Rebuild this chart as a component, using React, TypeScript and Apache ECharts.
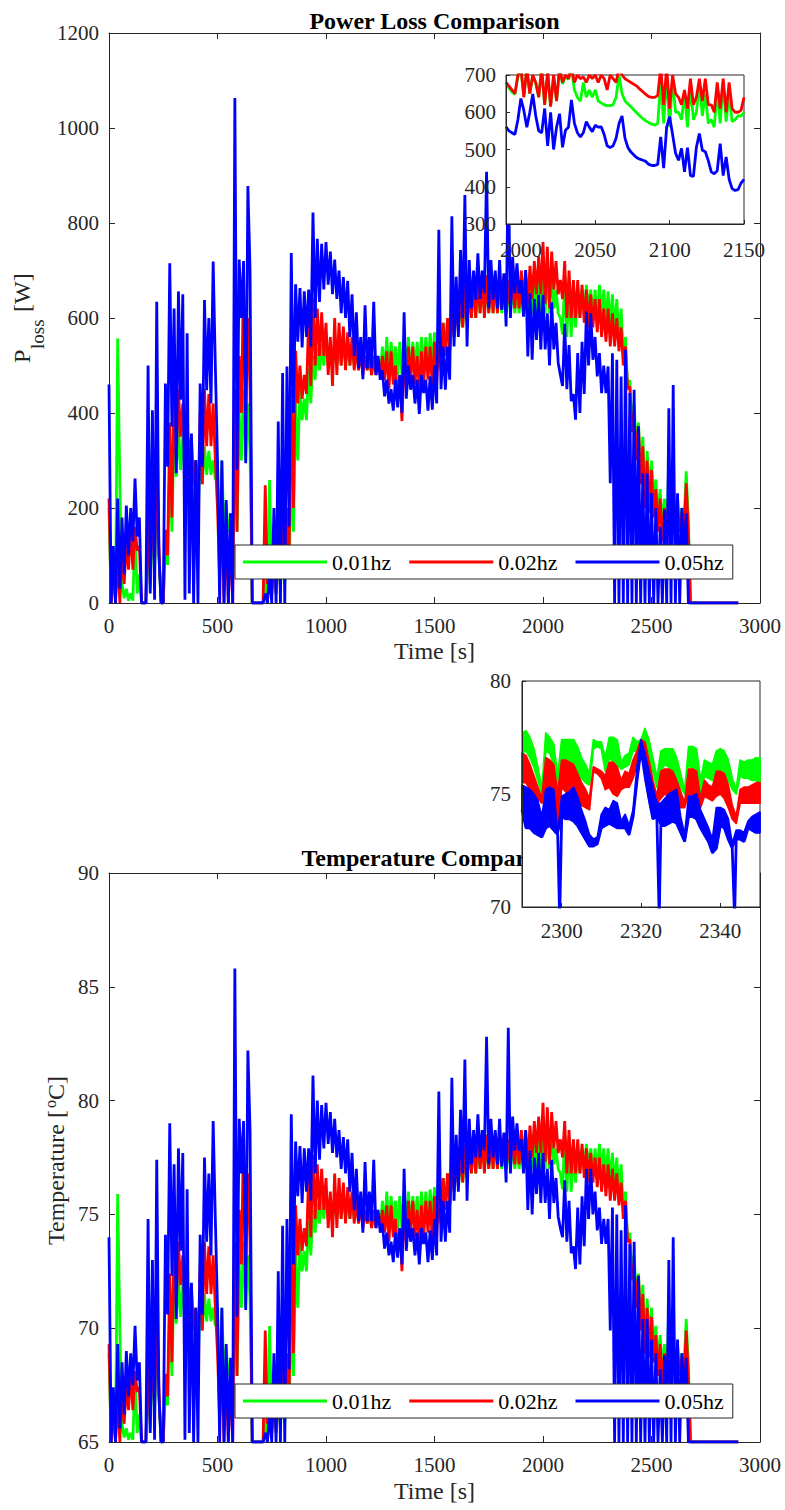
import React, { useEffect, useRef } from 'react';
import * as echarts from 'echarts';

// ---------- names / colours ----------
const NAMES = ['0.01hz', '0.02hz', '0.05hz'];
const COLORS = ['#00ff00', '#ff0000', '#0000ff'];

// ---------- main plots: 20 s windows starting at 0 s ----------
// For every window: upper (Hi) and lower (Lo) excursion of the dense signal.
const WIN_T0 = 0;
const WIN_STEP = 20;
const tailTime = [2680, 2900];
const tailPower = [0, 0];
const tailTemp = [65, 65];

// Power loss [W]
const pGreenHi = [200,60,557,40,30,20,150,60,0,150, 200,250,0,133,300,380,380,350,330,300, 280,320,330,320,300,300,300,210,180,300, 400,450,420,0,0,0,60,259,120,100, 139,147,301,420,448,430,494,520,538,545, 550,550,540,540,545,540,540,530,530,520, 520,520,510,540,560,550,540,550,560,560, 550,550,560,560,568,570,580,590,600,610, 630,640,650,650,660,660,670,670,670,670, 670,660,660,670,660,670,670,670,670,680, 700,700,700,660,600,690,670,650,650,660, 670,660,660,670,660,656,650,640,620,560, 470,420,380,350,320,300,260,240,220,300, 260,220,200,277];
const pGreenLo = [0,0,250,10,5,5,20,0,0,30, 60,100,0,80,150,266,280,270,250,200, 180,250,270,270,260,100,150,150,100,150, 300,300,320,0,0,0,0,30,20,30, 40,60,150,300,385,385,420,470,490,500, 500,500,500,500,505,500,500,500,490,490, 480,490,480,480,480,490,480,480,490,480, 490,480,490,490,498,500,510,520,530,560, 570,580,590,600,600,610,610,610,610,610, 610,610,610,610,610,610,610,610,610,610, 610,610,620,610,565,560,560,580,600,610, 610,600,600,600,590,580,570,560,520,450, 380,320,280,220,230,220,180,160,150,130, 150,170,170,170];
const pRedHi = [220,80,100,110,130,160,160,120,0,200, 240,300,0,154,380,450,450,420,380,350, 300,400,450,440,420,200,200,160,154,450, 520,693,600,0,0,0,248,80,100,150, 183,200,450,531,500,480,600,641,620,612, 590,560,600,590,582,570,560,540,530,520, 520,520,510,520,530,530,500,480,520,540, 540,520,530,540,540,550,560,590,600,620, 640,660,670,680,680,690,680,690,680,690, 690,690,680,690,690,700,700,710,720,730, 760,750,740,720,680,720,700,680,680,670, 660,650,640,640,620,620,610,600,580,540, 456,400,372,330,300,280,240,220,200,250, 230,200,190,252];
const pRedLo = [0,0,0,40,70,70,110,0,0,40, 80,120,0,100,180,300,350,300,300,250, 200,250,330,330,300,50,0,0,0,150, 400,400,450,0,0,0,40,20,20,30, 60,100,200,420,430,440,457,500,520,520, 480,457,480,500,490,500,490,490,480,490, 480,480,480,470,450,460,430,383,450,470, 460,450,460,470,450,460,490,520,530,560, 570,580,590,600,600,610,600,610,610,610, 620,610,620,620,620,630,630,640,650,650, 630,620,660,650,640,600,600,600,600,590, 580,580,570,560,550,540,540,530,500,450, 360,300,250,200,190,180,150,130,120,100, 120,150,150,150];
const pBlueHi = [460,120,220,180,205,200,262,180,0,500, 406,634,0,462,715,620,656,650,568,357, 301,462,638,600,719,300,300,217,189,1063, 723,720,878,0,0,0,20,63,200,382, 484,498,737,671,663,656,660,822,767,756, 760,740,723,700,686,678,650,612,560,627, 560,634,520,490,470,450,470,480,612,500, 480,470,480,470,477,500,786,540,540,814, 687,743,859,722,700,736,700,908,722,700, 722,694,930,729,715,680,701,652,640,649, 649,610,633,590,480,588,543,440,526,550, 614,610,560,526,500,498,526,512,477,533, 442,449,372,273,273,231,200,161,196,410, 459,231,200,189];
const pBlueLo = [0,0,30,60,100,130,140,0,0,20, 7,100,0,287,371,273,428,7,20,0, 0,287,448,420,500,0,0,0,0,280, 600,294,700,0,0,0,0,0,0,0, 0,161,400,550,538,560,540,600,634,660, 670,650,640,610,600,560,520,494,471,494, 494,480,470,435,420,405,412,400,430,449, 420,398,442,405,407,420,450,449,470,540, 560,600,540,620,638,640,652,620,638,620, 617,582,600,652,652,603,519,512,554,534, 534,500,534,506,457,450,425,386,400,440, 500,512,477,442,442,252,0,0,0,0, 0,0,0,0,0,0,0,0,0,0, 0,0,100,0];

// Temperature [degC]
const tGreenHi = [68.9,66.2,75.9,65.8,65.6,65.4,67.9,66.2,65.0,67.9, 68.9,69.9,65.0,67.6,70.9,72.4,72.4,71.9,71.5,70.9, 70.5,71.3,71.5,71.3,70.9,70.9,70.9,69.1,68.5,70.9, 72.8,73.8,73.2,65,65,65,66.2,70.1,67.4,67.0, 67.7,67.9,70.9,73.2,73.8,73.4,74.7,75.2,75.5,75.7, 75.8,75.8,75.6,75.6,75.7,75.6,75.6,75.4,75.4,75.2, 75.2,75.2,75.0,75.6,76.0,75.8,75.6,75.8,76.0,76.0, 75.8,75.8,76.0,76.0,76.1,76.2,76.4,76.6,76.8,77.0, 77.3,77.5,77.7,77.7,77.9,77.9,78.1,78.1,78.1,78.1, 78.1,77.9,77.9,78.1,77.9,78.1,78.1,78.1,78.1,78.3, 78.7,78.7,78.7,77.9,76.8,78.5,78.1,77.7,77.7,77.9, 78.1,77.9,77.9,78.1,77.9,77.9,77.7,77.5,77.2,76.0, 74.2,73.2,72.4,71.9,71.3,70.9,70.1,69.7,69.3,70.9, 70.1,69.3,68.9,70.4];
const tGreenLo = [65.0,65.0,69.9,65.2,65.1,65.1,65.4,65.0,65.0,65.6, 66.2,67.0,65.0,66.6,67.9,70.2,70.5,70.3,69.9,68.9, 68.5,69.9,70.3,70.3,70.1,67.0,67.9,67.9,67.0,67.9, 70.9,70.9,71.3,65,65,65,65.0,65.6,65.4,65.6, 65.8,66.2,67.9,70.9,72.5,72.5,73.2,74.2,74.6,74.8, 74.8,74.8,74.8,74.8,74.9,74.8,74.8,74.8,74.6,74.6, 74.4,74.6,74.4,74.4,74.4,74.6,74.4,74.4,74.6,74.4, 74.6,74.4,74.6,74.6,74.8,74.8,75.0,75.2,75.4,76.0, 76.2,76.4,76.6,76.8,76.8,77.0,77.0,77.0,77.0,77.0, 77.0,77.0,77.0,77.0,77.0,77.0,77.0,77.0,77.0,77.0, 77.0,77.0,77.2,77.0,76.1,76.0,76.0,76.4,76.8,77.0, 77.0,76.8,76.8,76.8,76.6,76.4,76.2,76.0,75.2,73.8, 72.4,71.3,70.5,69.3,69.5,69.3,68.5,68.1,67.9,67.5, 67.9,68.3,68.3,68.3];
const tRedHi = [69.3,66.6,67.0,67.2,67.5,68.1,68.1,67.4,65.0,68.9, 69.7,70.9,65.0,68.0,72.4,73.8,73.8,73.2,72.4,71.9, 70.9,72.8,73.8,73.6,73.2,68.9,68.9,68.1,68.0,73.8, 75.2,78.6,76.8,65,65,65,69.9,66.6,67.0,67.9, 68.6,68.9,73.8,75.4,74.8,74.4,76.8,77.6,77.2,77.0, 76.6,76.0,76.8,76.6,76.4,76.2,76.0,75.6,75.4,75.2, 75.2,75.2,75.0,75.2,75.4,75.4,74.8,74.4,75.2,75.6, 75.6,75.2,75.4,75.6,75.6,75.8,76.0,76.6,76.8,77.2, 77.5,77.9,78.1,78.3,78.3,78.5,78.3,78.5,78.3,78.5, 78.5,78.5,78.3,78.5,78.5,78.7,78.7,78.9,79.1,79.3, 79.9,79.7,79.5,79.1,78.3,79.1,78.7,78.3,78.3,78.1, 77.9,77.7,77.5,77.5,77.2,77.2,77.0,76.8,76.4,75.6, 73.9,72.8,72.3,71.5,70.9,70.5,69.7,69.3,68.9,69.9, 69.5,68.9,68.7,69.9];
const tRedLo = [65.0,65.0,65.0,65.8,66.4,66.4,67.2,65.0,65.0,65.8, 66.6,67.4,65.0,67.0,68.5,70.9,71.9,70.9,70.9,69.9, 68.9,69.9,71.5,71.5,70.9,66.0,65.0,65.0,65.0,67.9, 72.8,72.8,73.8,65,65,65,65.8,65.4,65.4,65.6, 66.2,67.0,68.9,73.2,73.4,73.6,74.0,74.8,75.2,75.2, 74.4,74.0,74.4,74.8,74.6,74.8,74.6,74.6,74.4,74.6, 74.4,74.4,74.4,74.2,73.8,74.0,73.4,72.5,73.8,74.2, 74.0,73.8,74.0,74.2,73.8,74.0,74.6,75.2,75.4,76.0, 76.2,76.4,76.6,76.8,76.8,77.0,76.8,77.0,77.0,77.0, 77.2,77.0,77.2,77.2,77.2,77.3,77.3,77.5,77.7,77.7, 77.3,77.2,77.9,77.7,77.5,76.8,76.8,76.8,76.8,76.6, 76.4,76.4,76.2,76.0,75.8,75.6,75.6,75.4,74.8,73.8, 72.1,70.9,69.9,68.9,68.7,68.5,67.9,67.5,67.4,67.0, 67.4,67.9,67.9,67.9];
const tBlueHi = [74.0,67.4,69.3,68.5,69.0,68.9,70.1,68.5,65.0,74.8, 73.0,77.4,65.0,74.1,79.0,77.2,77.9,77.7,76.1,72.0, 70.9,74.1,77.5,76.8,79.1,70.9,70.9,69.3,68.7,85.8, 79.2,79.1,82.2,65,65,65,65.4,66.2,68.9,72.5, 74.5,74.8,79.4,78.2,78.0,77.9,77.9,81.1,80.0,79.8, 79.9,79.5,79.2,78.7,78.4,78.3,77.7,77.0,76.0,77.3, 76.0,77.4,75.2,74.6,74.2,73.8,74.2,74.4,77.0,74.8, 74.4,74.2,74.4,74.2,74.3,74.8,80.4,75.6,75.6,81.0, 78.5,79.6,81.8,79.2,78.7,79.4,78.7,82.8,79.2,78.7, 79.2,78.6,83.2,79.3,79.0,78.3,78.7,77.8,77.5,77.7, 77.7,77.0,77.4,76.6,74.4,76.5,75.6,73.6,75.3,75.8, 77.0,77.0,76.0,75.3,74.8,74.8,75.3,75.0,74.3,75.4, 73.7,73.8,72.3,70.4,70.4,69.5,68.9,68.2,68.8,73.0, 74.0,69.5,68.9,68.7];
const tBlueLo = [65.0,65.0,65.6,66.2,67.0,67.5,67.7,65.0,65.0,65.4, 65.1,67.0,65.0,70.6,72.3,70.4,73.4,65.1,65.4,65.0, 65.0,70.6,73.8,73.2,74.8,65.0,65.0,65.0,65.0,70.5, 76.8,70.8,78.7,65,65,65,65,65,65,65, 65.0,68.2,72.8,75.8,75.5,76.0,75.6,76.8,77.4,77.9, 78.1,77.7,77.5,77.0,76.8,76.0,75.2,74.7,74.2,74.7, 74.7,74.4,74.2,73.5,73.2,72.9,73.1,72.8,73.4,73.8, 73.2,72.8,73.7,72.9,73.0,73.2,73.8,73.8,74.2,75.6, 76.0,76.8,75.6,77.2,77.5,77.5,77.8,77.2,77.5,77.2, 77.1,76.4,76.8,77.8,77.8,76.8,75.2,75.0,75.9,75.5, 75.5,74.8,75.5,74.9,74.0,73.8,73.3,72.6,72.8,73.6, 74.8,75.0,74.3,73.7,73.7,69.9,65,65,65,65, 65,65,65,65,65,65,65,65,65,65, 65,65,67.0,65];

// ---------- inset 1: power loss 1990-2150 s, every 2 s ----------
const IN1_T0 = 1990;
const IN1_STEP = 2;
const in1Green = [675,665,655,648,695,715,645,715,650,698, 678,642,715,622,705,617,695,632,715,676, 696,688,715,660,640,630,680,640,660,640, 660,630,625,620,617,618,620,640,700,650, 630,622,615,606,598,590,583,577,572,568, 566,570,680,570,700,560,690,600,600,580, 650,560,670,580,600,680,590,650,570,580, 560,660,570,680,575,650,575,580,590,590, 600];
const in1Red = [680,670,660,650,700,720,640,720,650,700, 680,640,720,620,710,615,700,630,720,680, 700,690,720,680,700,690,695,680,700,690, 700,680,700,690,660,700,690,680,720,700, 690,685,680,675,670,662,655,648,642,640, 640,645,720,620,720,610,700,650,640,620, 660,610,690,620,640,690,630,690,620,620, 600,680,610,690,600,680,610,600,600,605, 640];
const in1Blue = [561,550,545,540,580,637,605,560,600,649, 590,550,545,610,510,600,500,560,596,506, 552,560,633,570,545,534,545,575,560,548, 565,560,561,540,510,505,510,530,570,590, 530,505,493,485,478,474,471,468,460,457, 457,460,534,450,560,588,540,490,471,503, 440,505,430,428,506,543,498,494,470,440, 435,443,516,430,480,420,395,390,392,410, 420];

// ---------- inset 2: temperature 2290-2350 s, 1 s steps (upper / lower edge of each band) ----------
const IN2_T0 = 2290;
const IN2_STEP = 1;
const in2GreenHi = [77.7,77.8,77.5,77.0,76.2,75.2,77.7,77.5,77.2,75.8, 77.4,77.4,77.4,77.4,77.1,76.6,76.3,75.9,77.4,77.3, 77.3,76.6,77.5,77.5,77.4,76.4,76.7,76.8,77.5,77.3, 77.4,77.9,77.4,76.6,75.7,76.9,77.0,77.0,77.0,76.6, 75.9,75.1,77.1,77.1,77.0,75.6,76.5,76.4,76.3,76.9, 77.0,76.9,76.5,75.7,75.2,76.5,76.4,76.5,76.5,76.6, 76.6];
const in2GreenLo = [76.8,76.9,76.6,76.2,75.6,75.0,76.9,76.8,76.3,75.0, 76.5,76.4,76.3,76.1,75.9,75.7,75.5,75.4,77.0,77.1, 77.0,76.0,76.6,76.4,76.3,76.1,76.2,76.3,76.9,76.9, 77.0,77.2,76.8,76.0,75.3,76.0,76.3,76.2,76.0,75.7, 75.3,75.0,76.3,76.1,75.9,75.0,75.8,75.7,75.6,76.0, 76.0,75.9,75.6,75.2,75.0,75.8,75.7,75.7,75.6,75.6, 75.5];
const in2RedHi = [76.8,76.7,76.3,75.8,75.3,74.8,76.6,76.5,76.3,75.0, 76.5,76.5,76.4,76.3,75.9,75.5,75.2,74.8,76.2,76.1, 76.0,75.8,76.4,76.4,76.2,75.6,76.0,75.9,76.5,76.9, 77.4,77.3,76.5,75.6,74.9,76.0,76.1,76.1,76.0,75.6, 75.1,74.6,76.1,76.1,76.0,74.8,75.6,75.4,75.3,76.0, 76.0,75.9,75.4,74.5,74.0,75.2,75.3,75.3,75.4,75.5, 75.5];
const in2RedLo = [75.5,75.5,75.2,75.0,74.8,74.6,75.3,75.2,75.0,73.4, 75.3,75.1,74.9,74.7,74.6,74.5,74.4,74.3,76.0,75.9, 75.7,75.2,75.3,75.0,74.9,75.2,75.3,75.3,75.7,76.3, 76.8,76.6,75.8,75.0,74.6,74.8,75.0,74.9,74.7,74.5, 74.4,74.4,75.0,74.9,74.7,74.4,74.9,74.8,74.7,74.9, 75.0,74.8,74.4,73.9,73.7,74.6,74.6,74.6,74.6,74.6, 74.6];
const in2BlueHi = [75.4,75.3,75.2,75.0,74.7,74.0,75.2,75.3,75.2,73.2, 74.9,75.0,75.1,75.3,74.9,74.3,73.8,73.2,73.0,73.1, 74.1,74.4,74.3,74.7,74.6,73.8,74.1,73.6,74.3,76.2, 77.4,76.8,76.0,75.3,74.6,74.6,74.8,75.0,75.1,75.2, 74.0,73.2,74.9,74.9,75.0,74.3,73.9,73.5,73.0,74.4, 74.4,74.3,73.9,72.8,73.4,73.4,73.3,73.8,74.0,74.1, 74.2];
const in2BlueLo = [74.3,73.5,73.5,73.3,73.2,73.1,73.5,73.6,73.4,73.2, 74.0,73.9,73.9,73.8,73.6,73.3,73.0,72.7,72.7,72.8, 73.5,73.6,73.7,73.6,73.5,73.5,73.5,73.2,74.0,75.6, 77.0,75.8,74.8,73.9,74.0,73.6,73.6,73.7,73.8,73.7, 73.3,72.9,74.0,74.0,73.9,73.5,73.2,72.9,72.4,72.6, 73.6,73.5,73.0,72.6,73.0,73.0,72.9,73.5,73.4,73.3, 73.3];
// sharp downward drops of the 0.05hz trace inside inset 2: [time, value] (value clipped at 70)
const in2BlueDips = [[2299.5, 69.5], [2324.6, 69.5], [2343.6, 69.5]];

// ---------- tick values ----------
const mainXTicks = { min: 0, max: 3000, interval: 500 };
const powerYTicks = { min: 0, max: 1200, interval: 200 };
const tempYTicks = { min: 65, max: 90, interval: 5 };
const in1X = { min: 1990, max: 2150, ticks: [2000, 2050, 2100, 2150] };
const in1Y = { min: 300, max: 700, interval: 100 };
const in2X = { min: 2290, max: 2350, ticks: [2300, 2320, 2340] };
const in2Y = { min: 70, max: 80, interval: 5 };

// ---------- helpers ----------
function envelopeSeries(hi: number[], lo: number[], t0: number, step: number, tailT: number[] = [], tailV: number[] = []) {
  const pts: number[][] = [];
  for (let k = 0; k < hi.length; k++) {
    pts.push([t0 + k * step, hi[k]]);
    pts.push([t0 + k * step + step / 2, lo[k]]);
  }
  for (let i = 0; i < tailT.length; i++) pts.push([tailT[i], tailV[i]]);
  return pts;
}
function plainSeries(vals: number[], t0: number, step: number) {
  return vals.map((v, i) => [t0 + i * step, v]);
}
function withDips(pts: number[][], dips: number[][]) {
  return pts.concat(dips).sort((a, b) => a[0] - b[0]);
}

const AX = '#262626';
const FAMILY = 'Liberation Serif';
const FONT = "'Liberation Serif', 'Times New Roman', serif";
const PAGE_CSS = `#root svg text, #root svg tspan { font-family: 'Liberation Serif', 'Times New Roman', serif !important; }`;
const LINE_W = 2.8;

function axis(o: any) {
  const { gridIndex, position, min, max, interval, showLabel = true, margin = 10, z = 0, tickLen = 6, customValues } = o;
  const a: any = {
    type: 'value', gridIndex, position, min, max, z,
    splitLine: { show: false },
    axisLine: { show: true, onZero: false, lineStyle: { color: AX, width: 1 } },
    axisTick: { show: true, inside: true, length: tickLen, lineStyle: { color: AX, width: 1 } },
    axisLabel: {
      show: showLabel, color: AX, fontFamily: FAMILY, fontSize: 21, margin,
      formatter: (v: number) => String(v),
    },
  };
  if (interval !== undefined) a.interval = interval;
  if (customValues) {
    a.axisTick.customValues = customValues;
    a.axisLabel.customValues = customValues;
  }
  return a;
}

function lineSeries(name: string, color: string, data: number[][], xi: number, yi: number, z: number, width = LINE_W) {
  return {
    type: 'line', name, data, xAxisIndex: xi, yAxisIndex: yi, z,
    symbol: 'none', showSymbol: false, clip: true, silent: true,
    lineStyle: { color, width }, itemStyle: { color },
    emphasis: { disabled: true },
  };
}

// filled band between an upper and a lower edge (custom series drawing a polygon through the axes)
function bandSeries(name: string, color: string, hi: number[], lo: number[], t0: number, step: number, xi: number, yi: number, z: number) {
  return {
    type: 'custom', name, xAxisIndex: xi, yAxisIndex: yi, z, silent: true,
    data: [[t0, lo[0]]],
    encode: { x: 0, y: 1 },
    renderItem: (_params: any, api: any) => {
      const pts: number[][] = [];
      for (let i = 0; i < hi.length; i++) pts.push(api.coord([t0 + i * step, hi[i]]));
      for (let i = lo.length - 1; i >= 0; i--) pts.push(api.coord([t0 + i * step, lo[i]]));
      return {
        type: 'polygon',
        shape: { points: pts },
        style: { fill: color, stroke: color, lineWidth: 1.8, lineJoin: 'round' },
      };
    },
  };
}

function legend(top: number) {
  return {
    data: NAMES.map((n) => ({ name: n, icon: 'rect' })),
    left: 235, top, orient: 'horizontal',
    itemWidth: 84, itemHeight: 3, itemGap: 18,
    padding: [6, 9, 6, 8],
    backgroundColor: '#fff', borderColor: AX, borderWidth: 1,
    textStyle: { fontFamily: FAMILY, fontSize: 22, color: '#000', lineHeight: 22 },
    selectedMode: false, z: 20,
  };
}

function buildOption() {
  const grids = [
    { left: 109, top: 33, width: 651, height: 570, show: false, z: 0, outerBoundsMode: 'none' },
    { left: 506, top: 75, width: 238, height: 149, show: true, backgroundColor: '#fff', borderColor: AX, borderWidth: 1, z: 10, outerBoundsMode: 'none' },
    { left: 109, top: 873, width: 651, height: 569, show: false, z: 0, outerBoundsMode: 'none' },
    { left: 522, top: 681, width: 238, height: 226, show: true, backgroundColor: '#fff', borderColor: AX, borderWidth: 1, z: 10, outerBoundsMode: 'none' },
  ];
  const xAxis = [
    axis({ gridIndex: 0, position: 'bottom', ...mainXTicks, margin: 12 }),
    axis({ gridIndex: 0, position: 'top', ...mainXTicks, showLabel: false }),
    axis({ gridIndex: 1, position: 'bottom', min: in1X.min, max: in1X.max, customValues: in1X.ticks, margin: 15, z: 20, tickLen: 4 }),
    axis({ gridIndex: 2, position: 'bottom', ...mainXTicks, margin: 12 }),
    axis({ gridIndex: 2, position: 'top', ...mainXTicks, showLabel: false }),
    axis({ gridIndex: 3, position: 'bottom', min: in2X.min, max: in2X.max, customValues: in2X.ticks, margin: 13, z: 20, tickLen: 4 }),
  ];
  const yAxis = [
    axis({ gridIndex: 0, position: 'left', ...powerYTicks, margin: 10 }),
    axis({ gridIndex: 0, position: 'right', ...powerYTicks, showLabel: false }),
    axis({ gridIndex: 1, position: 'left', ...in1Y, margin: 10, z: 20, tickLen: 4 }),
    axis({ gridIndex: 2, position: 'left', ...tempYTicks, margin: 10 }),
    axis({ gridIndex: 2, position: 'right', ...tempYTicks, showLabel: false }),
    axis({ gridIndex: 3, position: 'left', ...in2Y, margin: 11, z: 20, tickLen: 4 }),
  ];

  const pHi = [pGreenHi, pRedHi, pBlueHi];
  const pLo = [pGreenLo, pRedLo, pBlueLo];
  const tHi = [tGreenHi, tRedHi, tBlueHi];
  const tLo = [tGreenLo, tRedLo, tBlueLo];
  const i1 = [in1Green, in1Red, in1Blue];
  const i2Hi = [in2GreenHi, in2RedHi, in2BlueHi];
  const i2Lo = [in2GreenLo, in2RedLo, in2BlueLo];

  const series: any[] = [];
  for (let s = 0; s < 3; s++) {
    series.push(lineSeries(NAMES[s], COLORS[s], envelopeSeries(pHi[s], pLo[s], WIN_T0, WIN_STEP, tailTime, tailPower), 0, 0, 2 + s));
  }
  for (let s = 0; s < 3; s++) {
    series.push(lineSeries(NAMES[s], COLORS[s], plainSeries(i1[s], IN1_T0, IN1_STEP), 2, 2, 12 + s));
  }
  for (let s = 0; s < 3; s++) {
    series.push(lineSeries(NAMES[s], COLORS[s], envelopeSeries(tHi[s], tLo[s], WIN_T0, WIN_STEP, tailTime, tailTemp), 3, 3, 2 + s));
  }
  for (let s = 0; s < 3; s++) {
    series.push(bandSeries(NAMES[s], COLORS[s], i2Hi[s], i2Lo[s], IN2_T0, IN2_STEP, 5, 5, 12 + s));
  }
  series.push(lineSeries(NAMES[2], COLORS[2], withDips(plainSeries(in2BlueLo, IN2_T0, IN2_STEP), in2BlueDips), 5, 5, 14));

  const txt = (text: string, size: number, extra: any = {}) => ({
    text, font: `${extra.bold ? 'bold ' : ''}${size}px ${FONT}`, fill: extra.fill || AX,
    textAlign: extra.align || 'left', textVerticalAlign: 'middle',
  });

  const graphic = [
    { type: 'text', x: 434.5, y: 21, z: 1, style: txt('Power Loss Comparison', 24, { bold: true, fill: '#000', align: 'center' }) },
    { type: 'text', x: 434.5, y: 858, z: 1, style: txt('Temperature Comparison', 24, { bold: true, fill: '#000', align: 'center' }) },
    { type: 'text', x: 434.5, y: 651, z: 1, style: txt('Time [s]', 24, { align: 'center' }) },
    { type: 'text', x: 434.5, y: 1491, z: 1, style: txt('Time [s]', 24, { align: 'center' }) },
    {
      type: 'group', x: 22.4, y: 363, rotation: Math.PI / 2, z: 1,
      children: [
        { type: 'text', x: 0, y: 0, style: txt('P', 24) },
        { type: 'text', x: 14, y: 14.9, style: txt('loss', 19) },
        { type: 'text', x: 51, y: 0, style: txt('[W]', 24) },
      ],
    },
    {
      type: 'group', x: 56, y: 1245, rotation: Math.PI / 2, z: 1,
      children: [
        { type: 'text', x: 0, y: 0, style: txt('Temperature [', 24) },
        { type: 'text', x: 137, y: -6, style: txt('o', 16) },
        { type: 'text', x: 145, y: 0, style: txt('C]', 24) },
      ],
    },
  ];

  return {
    animation: false,
    backgroundColor: '#fff',
    textStyle: { fontFamily: FAMILY },
    grid: grids,
    xAxis,
    yAxis,
    legend: [legend(545), legend(1384)],
    series,
    graphic,
  };
}

export default function App() {
  const ref = useRef<HTMLDivElement>(null);
  useEffect(() => {
    document.body.style.margin = '0';
    const chart = echarts.init(ref.current as HTMLDivElement, null, { renderer: 'svg' });
    chart.setOption(buildOption() as any);
    return () => chart.dispose();
  }, []);
  return (
    <>
      <style>{PAGE_CSS}</style>
      <div ref={ref} style={{ width: 785, height: 1510 }} />
    </>
  );
}
